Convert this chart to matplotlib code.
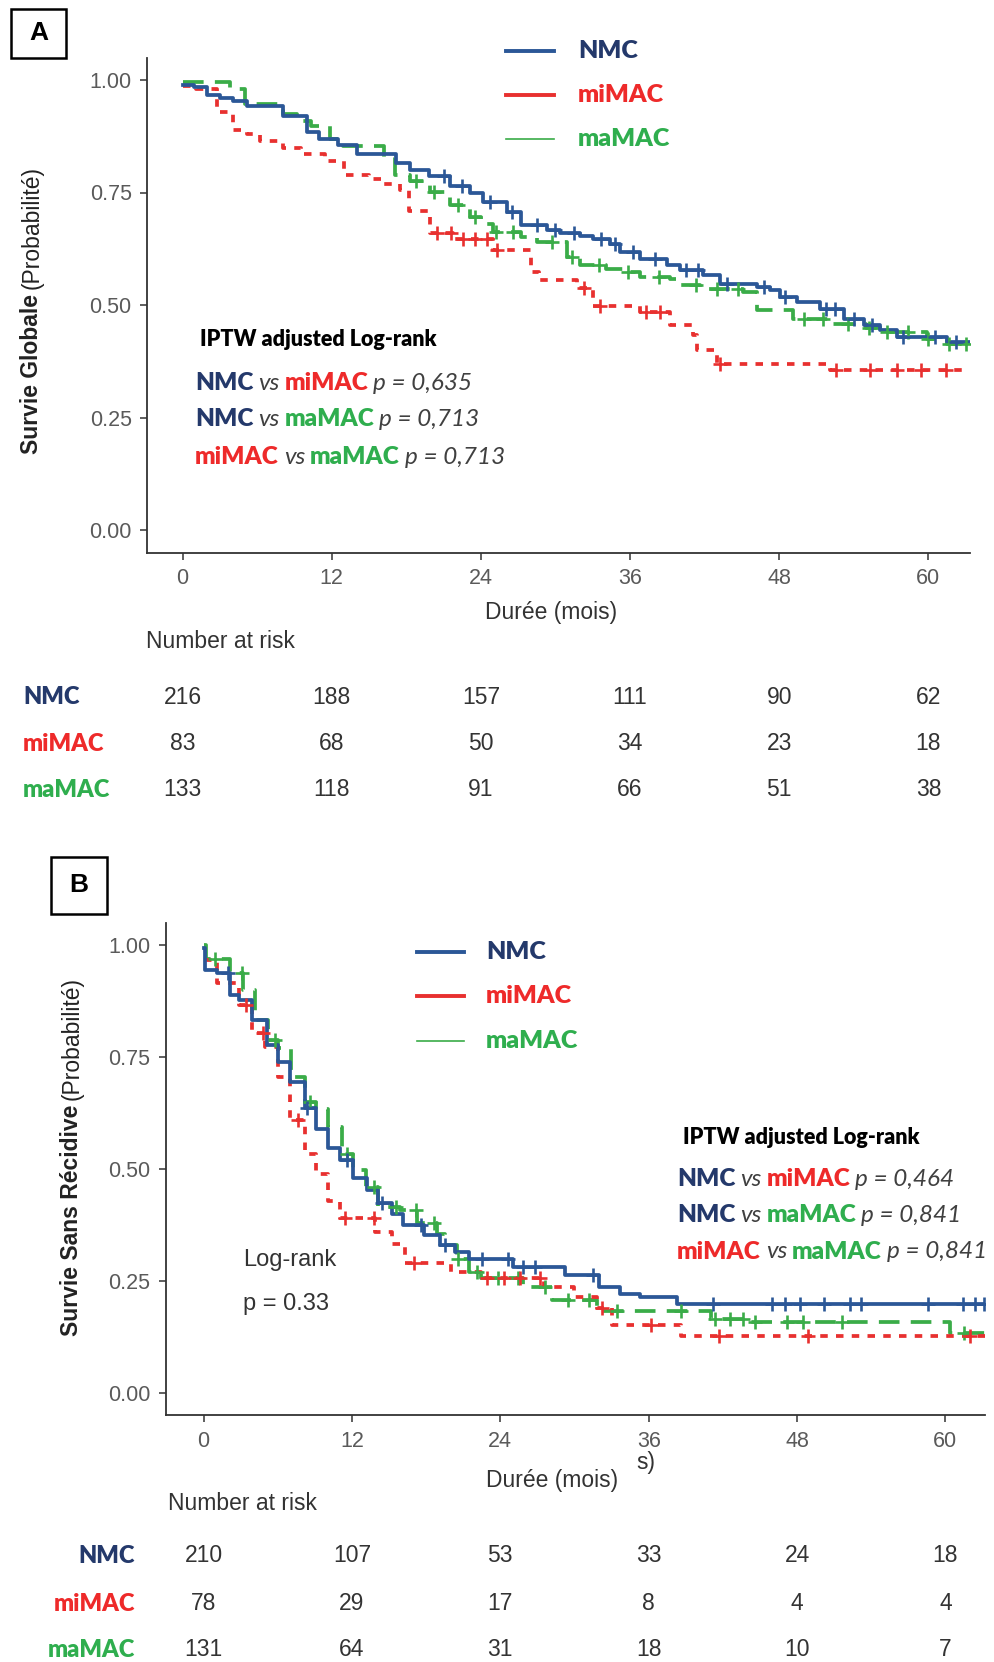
import matplotlib
matplotlib.use('Agg')
import matplotlib.pyplot as plt
import matplotlib.transforms as mtransforms
from matplotlib.lines import Line2D
from matplotlib.patches import Rectangle
import numpy as np

# ---------------- data ----------------
groups = ['NMC', 'miMAC', 'maMAC']
ticks_x = [0, 12, 24, 36, 48, 60]
ticks_y = [0.00, 0.25, 0.50, 0.75, 1.00]

# panel A : survie globale
nmc_a_t = [0, 0.9, 2.0, 3.0, 4.1, 5.2, 8.1, 10.0, 11.0, 12.5, 14.0, 17.2, 18.3, 19.8, 21.5, 23.1, 24.2, 26.1, 27.2, 29.3,
           30.4, 32.0, 33.0, 34.4, 35.2, 36.8, 39.0, 40.0, 41.9, 43.2, 46.2, 47.3, 48.1, 49.4, 51.3, 53.2, 54.8, 56.1,
           57.5, 61.5, 63.3]
nmc_a_s = [0.99, 0.985, 0.966, 0.96, 0.953, 0.942, 0.92, 0.884, 0.87, 0.855, 0.835, 0.815, 0.80, 0.786, 0.765, 0.748,
           0.73, 0.707, 0.678, 0.667, 0.66, 0.653, 0.647, 0.635, 0.618, 0.603, 0.589, 0.578, 0.567, 0.547, 0.54, 0.533,
           0.518, 0.507, 0.491, 0.469, 0.455, 0.444, 0.43, 0.418, 0.418]
nmc_a_cens = [21.0, 22.5, 24.7, 26.5, 28.5, 30.0, 31.5, 33.7, 34.8, 36.2, 38.0, 40.5, 41.5, 43.8, 46.8, 48.5, 51.8, 52.5,
              54.0, 55.5, 58.0, 60.5, 62.2]

mi_a_t = [0, 1.1, 2.8, 4.1, 5.2, 6.2, 8.1, 9.5, 11.5, 13.0, 15.0, 16.2, 17.5, 18.2, 19.9, 21.8, 25.0, 28.0, 28.7, 31.7,
          33.0, 36.8, 39.2, 41.1, 41.4, 43.0, 52.1, 63.3]
mi_a_s = [0.987, 0.98, 0.93, 0.89, 0.88, 0.864, 0.85, 0.835, 0.82, 0.79, 0.78, 0.77, 0.755, 0.71, 0.66, 0.647, 0.622,
          0.574, 0.555, 0.538, 0.498, 0.484, 0.455, 0.433, 0.40, 0.37, 0.355, 0.355]
mi_a_cens = [20.5, 21.6, 22.6, 23.5, 24.5, 25.3, 32.3, 33.6, 37.3, 38.4, 43.2, 52.6, 55.3, 57.5, 59.4, 61.4]

ma_a_t = [0, 3.8, 5.0, 8.1, 9.2, 10.3, 11.9, 12.9, 16.2, 17.1, 18.3, 19.9, 21.5, 23.1, 24.0, 25.0, 27.2, 28.5, 30.9,
          32.0, 34.1, 35.4, 36.8, 39.2, 40.0, 41.6, 45.1, 46.2, 49.1, 52.1, 55.0, 56.7, 59.9, 61.5, 63.3]
ma_a_s = [0.995, 0.98, 0.946, 0.925, 0.908, 0.897, 0.87, 0.853, 0.83, 0.79, 0.775, 0.752, 0.723, 0.696, 0.68, 0.663,
          0.652, 0.64, 0.607, 0.589, 0.58, 0.574, 0.563, 0.558, 0.545, 0.536, 0.529, 0.489, 0.469, 0.458, 0.449, 0.44,
          0.425, 0.413, 0.413]
ma_a_cens = [18.8, 20.2, 22.2, 23.5, 25.2, 26.6, 29.7, 31.3, 33.5, 35.8, 38.3, 41.3, 43.0, 44.7, 50.0, 51.5, 53.5, 55.2,
             56.7, 58.4, 60.0, 61.7, 63.0]

risk_a = {'NMC': [216, 188, 157, 111, 90, 62],
          'miMAC': [83, 68, 50, 34, 23, 18],
          'maMAC': [133, 118, 91, 66, 51, 38]}
pvals_a = ['0,635', '0,713', '0,713']

# panel B : survie sans recidive
nmc_b_t = [0, 0.1, 1.06, 2.1, 2.9, 3.9, 5.1, 6.0, 7.0, 8.2, 9.1, 10.1, 11.0, 12.1, 13.2, 14.1, 15.2, 16.1, 17.8, 19.1,
           20.3, 21.5, 25.0, 29.2, 32.0, 33.7, 35.3, 38.3, 63.2]
nmc_b_s = [0.994, 0.945, 0.938, 0.889, 0.878, 0.833, 0.777, 0.74, 0.695, 0.636, 0.591, 0.547, 0.52, 0.48, 0.453, 0.424,
           0.40, 0.375, 0.352, 0.33, 0.315, 0.30, 0.281, 0.263, 0.236, 0.222, 0.214, 0.20, 0.20]
nmc_b_cens = [2.0, 8.4, 11.6, 14.4, 17.6, 19.5, 22.5, 24.6, 25.8, 26.8, 31.5, 41.2, 46.0, 47.0, 48.2, 50.2, 52.3, 53.2,
              58.6, 61.4, 62.4, 63.1]

mi_b_t = [0, 1.1, 2.9, 3.9, 5.0, 6.0, 7.0, 8.2, 9.1, 10.1, 11.0, 13.9, 15.2, 16.3, 20.0, 22.4, 27.5, 30.0, 31.8, 33.0,
          38.6, 63.2]
mi_b_s = [0.968, 0.916, 0.867, 0.804, 0.773, 0.706, 0.61, 0.535, 0.49, 0.43, 0.392, 0.359, 0.334, 0.29, 0.27, 0.258,
          0.236, 0.215, 0.19, 0.152, 0.128, 0.128]
mi_b_cens = [3.4, 4.8, 7.6, 11.4, 13.8, 17.0, 22.9, 24.3, 25.6, 27.2, 32.2, 36.2, 41.7, 48.9, 62.0]

ma_b_t = [0, 0.2, 2.1, 3.2, 4.2, 5.2, 6.0, 7.1, 8.2, 9.1, 10.1, 11.2, 12.1, 13.1, 14.1, 15.9, 17.3, 18.9, 19.5, 20.5,
          21.5, 22.4, 25.8, 28.2, 31.8, 41.0, 43.7, 60.4, 63.2]
ma_b_s = [1.0, 0.97, 0.938, 0.90, 0.833, 0.789, 0.77, 0.706, 0.65, 0.635, 0.594, 0.535, 0.498, 0.46, 0.415, 0.408, 0.379,
          0.356, 0.33, 0.30, 0.27, 0.258, 0.236, 0.207, 0.184, 0.166, 0.158, 0.135, 0.135]
ma_b_cens = [0.9, 3.1, 5.8, 8.6, 11.6, 13.8, 15.6, 17.2, 18.6, 20.6, 22.1, 23.8, 25.4, 27.6, 29.5, 31.2, 33.4, 38.6,
             41.4, 42.6, 43.6, 44.6, 47.2, 48.5, 51.6, 61.5]

risk_b = {'NMC': [210, 107, 53, 33, 24, 18],
          'miMAC': [78, 29, 17, 8, 4, 4],
          'maMAC': [131, 64, 31, 18, 10, 7]}
pvals_b = ['0,464', '0,841', '0,841']

# ---------------- styles ----------------
W, H = 995, 1662
line_col = {'NMC': '#2b5797', 'miMAC': '#e8302f', 'maMAC': '#3aac48'}
text_col = {'NMC': '#24396b', 'miMAC': '#ee2a2a', 'maMAC': '#2fae4e'}
line_ls = {'NMC': '-', 'miMAC': (0, (2.0, 2.2)), 'maMAC': (0, (5.5, 3.0))}
SANS = ['Liberation Sans', 'DejaVu Sans']
HUM = ['Lato', 'DejaVu Sans']
BOLD = 'heavy'

fig = plt.figure(figsize=(W / 100, H / 100), dpi=100)
fig.patch.set_facecolor('white')


def fx(x):
    return x / W


def fy(y):
    return 1 - y / H


def add_ax(left, top, right, bottom):
    return fig.add_axes([fx(left), fy(bottom), (right - left) / W, (bottom - top) / H])


renderer = fig.canvas.get_renderer()


def rich_line(x, y, parts, size, gap=5):
    cx = x
    for s, c, w, st in parts:
        t = fig.text(fx(cx), fy(y), s, color=c, fontweight=w, fontstyle=st, fontsize=size,
                     family=HUM, ha='left', va='center')
        bb = t.get_window_extent(renderer=renderer)
        cx += bb.width + gap


def km_panel(ax, curves, xlim):
    for name, t, s, cens in curves:
        ax.step(t, s, where='post', color=line_col[name], lw=2.7, ls=line_ls[name], zorder=3)
        t_arr = np.array(t)
        s_arr = np.array(s)
        idx = np.searchsorted(t_arr, cens, side='right') - 1
        ax.plot(cens, s_arr[idx], ls='none', marker='+', ms=10, mew=1.9, color=line_col[name], zorder=4)
    ax.set_xlim(*xlim)
    ax.set_ylim(-0.05, 1.05)
    ax.set_xticks(ticks_x)
    ax.set_yticks(ticks_y)
    ax.set_yticklabels(['%.2f' % v for v in ticks_y])
    for sp in ['top', 'right']:
        ax.spines[sp].set_visible(False)
    for sp in ['left', 'bottom']:
        ax.spines[sp].set_color('#333333')
        ax.spines[sp].set_linewidth(1.3)
    ax.tick_params(length=5, width=1.1, color='#333333', labelcolor='#5a5a5a', labelsize=15.5, pad=6)
    for lab in ax.get_xticklabels() + ax.get_yticklabels():
        lab.set_family(SANS)


def legend_block(x0, x1, xt, ys):
    for name, y in zip(groups, ys):
        lw = 1.2 if name == 'maMAC' else 2.8
        fig.add_artist(Line2D([fx(x0), fx(x1)], [fy(y), fy(y)], color=line_col[name], lw=lw))
        fig.text(fx(xt), fy(y), name, color=text_col[name], fontweight=BOLD, fontsize=18,
                 family=HUM, ha='left', va='center')


def pval_block(x_head, y_head, x, ys, pvals):
    fig.text(fx(x_head), fy(y_head), 'IPTW adjusted Log-rank', fontweight=BOLD, fontsize=15.5,
             family=HUM, ha='left', va='center', color='black')
    pairs = [('NMC', 'miMAC'), ('NMC', 'maMAC'), ('miMAC', 'maMAC')]
    for (g1, g2), y, p in zip(pairs, ys, pvals):
        rich_line(x, y, [(g1, text_col[g1], BOLD, 'normal'),
                         ('vs', '#404040', 'normal', 'italic'),
                         (g2, text_col[g2], BOLD, 'normal'),
                         ('p = ' + p, '#404040', 'normal', 'italic')], 17.5)


def risk_table(ax, risk, rows_y, lab_x, lab_ha):
    tr = mtransforms.blended_transform_factory(ax.transData, fig.transFigure)
    for name, y in zip(groups, rows_y):
        fig.text(fx(lab_x), fy(y), name, color=text_col[name], fontweight=BOLD, fontsize=17,
                 family=HUM, ha=lab_ha, va='center')
        for tx, n in zip(ticks_x, risk[name]):
            ax.text(tx, fy(y), str(n), transform=tr, ha='center', va='center', fontsize=16.5,
                    family=SANS, color='#333333')


def ylabel_rot(x, y_bottom, bold_part, normal_part, size):
    t1 = fig.text(fx(x), fy(y_bottom), bold_part, rotation=90, fontweight='bold', fontsize=size,
                  family=SANS, ha='center', va='bottom', color='#222222')
    bb = t1.get_window_extent(renderer=renderer)
    y2 = y_bottom - bb.height - 5
    fig.text(fx(x), fy(y2), normal_part, rotation=90, fontsize=size, family=SANS,
             ha='center', va='bottom', color='#222222')


def panel_box(l, t, r, b, letter):
    fig.add_artist(Rectangle((fx(l), fy(b)), (r - l) / W, (b - t) / H, transform=fig.transFigure,
                             fill=False, ec='black', lw=1.8))
    fig.text(fx((l + r) / 2), fy((t + b) / 2), letter, fontsize=19, fontweight='bold', family=SANS,
             ha='center', va='center')


# ---------------- panel A ----------------
axA = add_ax(147, 57.5, 970, 552.5)
km_panel(axA, [('maMAC', ma_a_t, ma_a_s, ma_a_cens),
               ('miMAC', mi_a_t, mi_a_s, mi_a_cens),
               ('NMC', nmc_a_t, nmc_a_s, nmc_a_cens)], (-2.856, 63.35))
panel_box(11, 9, 66, 58, 'A')
legend_block(506, 554, 578, [51, 95, 139])
pval_block(200, 340, 195, [383, 419, 457], pvals_a)
ylabel_rot(32, 454, 'Survie Globale', '(Probabilité)', 16.5)
fig.text(fx(551), fy(612), 'Durée (mois)', fontsize=16.5, family=SANS, ha='center', va='center', color='#333333')
fig.text(fx(146), fy(641), 'Number at risk', fontsize=16.5, family=SANS, ha='left', va='center', color='#333333')
risk_table(axA, risk_a, [697, 744, 790], 23, 'left')

# ---------------- panel B ----------------
axB = add_ax(165.6, 923.1, 985, 1415.4)
km_panel(axB, [('maMAC', ma_b_t, ma_b_s, ma_b_cens),
               ('miMAC', mi_b_t, mi_b_s, mi_b_cens),
               ('NMC', nmc_b_t, nmc_b_s, nmc_b_cens)], (-3.07, 63.2))
panel_box(51, 857, 107, 914, 'B')
legend_block(417, 464, 486, [952, 996, 1041])
pval_block(683, 1138, 677, [1179, 1215, 1252], pvals_b)
ylabel_rot(72, 1336, 'Survie Sans Récidive', '(Probabilité)', 16.5)
fig.text(fx(243), fy(1260), 'Log-rank', fontsize=17, family=SANS, ha='left', va='center', color='#333333')
fig.text(fx(243), fy(1304), 'p = 0.33', fontsize=17, family=SANS, ha='left', va='center', color='#333333')

# leftover tail of the english axis title that shows in the original
fig.text(fx(655), fy(1462), 's)', fontsize=16.5, family=SANS, ha='right', va='center', color='#333333')
fig.text(fx(552), fy(1481), 'Durée (mois)', fontsize=16.5, family=SANS, ha='center', va='center',
         color='#333333')
fig.text(fx(168), fy(1504), 'Number at risk', fontsize=16.5, family=SANS, ha='left', va='center', color='#333333')
risk_table(axB, risk_b, [1556, 1604, 1650], 135, 'right')

fig.savefig('out.png', dpi=100, facecolor='white')
